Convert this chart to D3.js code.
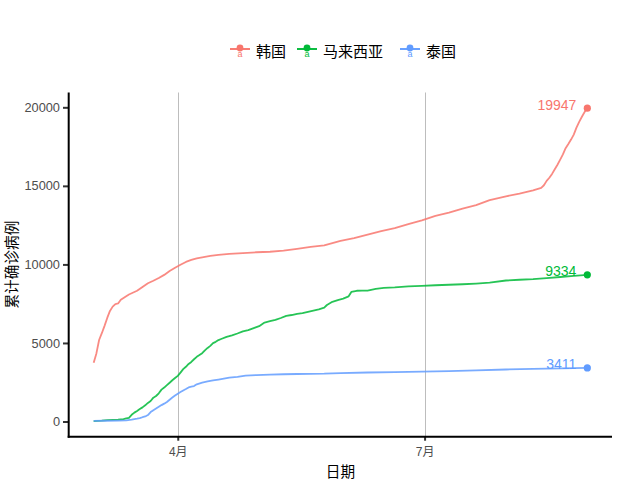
<!DOCTYPE html>
<html><head><meta charset="utf-8">
<script src="https://cdn.jsdelivr.net/npm/d3@7"></script>
<style>
body{margin:0;background:#fff;}
svg{display:block;}
</style></head>
<body>
<svg id="chart" width="640" height="480"></svg>
<script>
// ---------- DATA ----------
const seriesNames = ["韩国", "马来西亚", "泰国"];
const seriesColors = ["#F8766D", "#00BA38", "#619CFF"];

const koreaDates = ["03-01","03-02","03-03","03-04","03-05","03-06","03-07","03-08","03-09","03-10","03-11","03-12","03-13","03-14","03-15","03-17","03-19","03-21","03-23","03-25","03-27","03-29","03-31","04-02","04-04","04-06","04-08","04-10","04-13","04-16","04-20","04-25","04-30","05-05","05-10","05-15","05-20","05-25","05-31","06-05","06-10","06-15","06-20","06-25","06-30","07-05","07-10","07-15","07-20","07-25","07-31","08-05","08-10","08-13","08-14","08-15","08-16","08-17","08-18","08-19","08-20","08-21","08-22","08-23","08-24","08-25","08-26","08-27","08-28","08-29","08-30"];
const koreaValues = [3736,4335,5186,5621,6088,6593,7041,7313,7478,7513,7755,7869,7979,8086,8162,8320,8565,8799,8961,9137,9332,9583,9786,9976,10156,10284,10384,10450,10537,10613,10674,10718,10774,10806,10874,10991,11110,11206,11503,11668,11902,12121,12306,12563,12800,13091,13293,13551,13771,14092,14336,14499,14714,14873,15039,15318,15515,15761,16058,16346,16670,17002,17399,17665,17945,18265,18706,19077,19400,19699,19947];

const malaysiaDates = ["03-01","03-04","03-06","03-08","03-10","03-12","03-13","03-14","03-15","03-16","03-17","03-18","03-19","03-20","03-21","03-22","03-23","03-24","03-25","03-26","03-27","03-28","03-29","03-30","03-31","04-01","04-02","04-03","04-04","04-05","04-06","04-07","04-08","04-09","04-10","04-11","04-12","04-13","04-14","04-15","04-16","04-17","04-19","04-21","04-23","04-25","04-27","04-29","05-01","05-03","05-05","05-07","05-09","05-11","05-13","05-15","05-17","05-19","05-21","05-23","05-25","05-26","05-28","05-30","06-01","06-03","06-04","06-06","06-08","06-10","06-13","06-16","06-20","06-25","06-30","07-05","07-10","07-15","07-20","07-25","07-31","08-05","08-10","08-15","08-20","08-25","08-30"];
const malaysiaValues = [29,50,83,99,117,149,197,238,428,566,673,790,900,1030,1183,1306,1518,1624,1796,2031,2161,2320,2470,2626,2766,2908,3116,3333,3483,3662,3793,3963,4119,4228,4346,4530,4683,4817,4987,5072,5182,5251,5389,5482,5603,5742,5820,5945,6071,6298,6383,6467,6589,6726,6779,6855,6894,6978,7059,7137,7245,7417,7619,7732,7819,7970,8247,8322,8329,8336,8445,8505,8535,8596,8639,8674,8704,8737,8779,8840,8976,9023,9063,9129,9200,9274,9334];

const thailandDates = ["03-01","03-05","03-10","03-13","03-15","03-16","03-17","03-18","03-19","03-20","03-21","03-22","03-23","03-24","03-25","03-26","03-27","03-28","03-29","03-30","03-31","04-01","04-02","04-03","04-04","04-05","04-06","04-07","04-08","04-10","04-12","04-14","04-16","04-18","04-20","04-23","04-26","04-30","05-05","05-10","05-15","05-20","05-25","05-31","06-10","06-20","06-30","07-10","07-20","07-31","08-10","08-20","08-30"];
const thailandValues = [42,47,53,75,114,147,177,212,272,322,411,599,721,827,934,1045,1136,1245,1388,1524,1651,1771,1875,1978,2067,2169,2220,2258,2369,2473,2551,2613,2672,2733,2792,2839,2922,2954,2989,3009,3025,3037,3045,3081,3119,3146,3171,3202,3250,3310,3351,3378,3411];

const year = "2020";
const xTickDates = ["04-01", "07-01"];
const xTickLabels = ["4月", "7月"];
const yTicks = [0, 5000, 10000, 15000, 20000];
const xTitle = "日期";
const yTitle = "累计确诊病例";

// ---------- BUILD ----------
const parse = d3.timeParse("%Y-%m-%d");
const toDate = s => parse(year + "-" + s);
const allDates = [koreaDates, malaysiaDates, thailandDates];
const allValues = [koreaValues, malaysiaValues, thailandValues];
const series = seriesNames.map((n, i) => ({
  name: n, color: seriesColors[i],
  pts: allDates[i].map((d, j) => ({date: toDate(d), value: allValues[i][j]}))
}));

const svg = d3.select("#chart");
const L = 69, R = 612, T = 92.5, B = 436.7;

const dMin = d3.min(series, s => d3.min(s.pts, p => p.date));
const dMax = d3.max(series, s => d3.max(s.pts, p => p.date));
const dSpan = dMax - dMin;
const x = d3.scaleTime()
  .domain([new Date(+dMin - 0.05 * dSpan), new Date(+dMax + 0.05 * dSpan)])
  .range([L, R]);

const vMin = d3.min(series, s => d3.min(s.pts, p => p.value));
const vMax = d3.max(series, s => d3.max(s.pts, p => p.value));
const vSpan = vMax - vMin;
const y = d3.scaleLinear()
  .domain([vMin - 0.05 * vSpan, vMax + 0.05 * vSpan])
  .range([B, T]);

const tickDates = xTickDates.map(toDate);

// vertical grid lines
svg.append("g").selectAll("line").data(tickDates).join("line")
  .attr("x1", d => Math.round(x(d)) + 0.5).attr("x2", d => Math.round(x(d)) + 0.5)
  .attr("y1", T).attr("y2", B)
  .attr("stroke", "#bdbdbd").attr("stroke-width", 1);

// lines
const line = d3.line().x(p => x(p.date)).y(p => y(p.value));
svg.append("g").selectAll("path").data(series).join("path")
  .attr("d", s => line(s.pts))
  .attr("fill", "none")
  .attr("stroke", s => s.color)
  .attr("stroke-opacity", 0.85)
  .attr("stroke-width", 1.8)
  .attr("stroke-linejoin", "round");

// end points
const last = s => s.pts[s.pts.length - 1];
svg.append("g").selectAll("circle").data(series).join("circle")
  .attr("cx", s => x(last(s).date)).attr("cy", s => y(last(s).value))
  .attr("r", 3.6).attr("fill", s => s.color);

// end labels
svg.append("g").selectAll("text").data(series).join("text")
  .attr("x", s => x(last(s).date) - 11)
  .attr("y", s => y(last(s).value) - 3.5)
  .attr("text-anchor", "end")
  .attr("dominant-baseline", "central")
  .attr("font-family", "Liberation Sans, Arial, sans-serif")
  .attr("font-size", "14px")
  .attr("fill", s => s.color)
  .text(s => last(s).value);

// x axis
const xAxis = d3.axisBottom(x).tickValues(tickDates)
  .tickFormat((d, i) => xTickLabels[i]).tickSize(4).tickPadding(7);
const gx = svg.append("g").attr("transform", `translate(0,${B})`).call(xAxis);
gx.select(".domain").remove();
gx.selectAll(".tick line").attr("stroke", "#333").attr("stroke-width", 2);
gx.selectAll(".tick text").attr("fill", "#4d4d4d")
  .attr("font-family", "Liberation Sans, 'Noto Sans CJK SC', sans-serif")
  .attr("font-size", "12px");

// y axis
const yAxis = d3.axisLeft(y).tickValues(yTicks).tickFormat(d3.format("d"))
  .tickSize(6).tickPadding(3);
const gy = svg.append("g").attr("transform", `translate(${L},0)`).call(yAxis);
gy.select(".domain").remove();
gy.selectAll(".tick line").attr("stroke", "#333").attr("stroke-width", 2);
gy.selectAll(".tick text").attr("fill", "#4d4d4d")
  .attr("font-family", "Liberation Sans, Arial, sans-serif")
  .attr("font-size", "12.8px");

// axis lines
svg.append("line").attr("x1", L - 0.3).attr("x2", L - 0.3).attr("y1", T).attr("y2", B + 1)
  .attr("stroke", "#000").attr("stroke-width", 2);
svg.append("line").attr("x1", L - 1.3).attr("x2", R).attr("y1", B).attr("y2", B)
  .attr("stroke", "#000").attr("stroke-width", 2);

// axis titles
svg.append("text").attr("x", (L + R) / 2).attr("y", 470)
  .attr("text-anchor", "middle").attr("dominant-baseline", "central")
  .attr("font-family", "'Noto Sans CJK SC', sans-serif").attr("font-size", "14.67px")
  .attr("fill", "#000").text(xTitle);
svg.append("text").attr("transform", `translate(10.5,${(T + B) / 2}) rotate(-90)`)
  .attr("text-anchor", "middle").attr("dominant-baseline", "central")
  .attr("font-family", "'Noto Sans CJK SC', sans-serif").attr("font-size", "14.67px")
  .attr("fill", "#000").text(yTitle);

// legend
const legendX = [240, 307, 410];
const legendY = 49;
const lg = svg.append("g").selectAll("g").data(series).join("g")
  .attr("transform", (s, i) => `translate(${legendX[i]},${legendY})`);
lg.append("line").attr("x1", -10).attr("x2", 10).attr("y1", 0).attr("y2", 0)
  .attr("stroke", s => s.color).attr("stroke-width", 1.9);
lg.append("circle").attr("r", 3.4).attr("cy", -1).attr("fill", s => s.color);
lg.append("text").attr("y", 5).attr("text-anchor", "middle")
  .attr("dominant-baseline", "central")
  .attr("font-family", "Liberation Sans, Arial, sans-serif").attr("font-size", "9px")
  .attr("fill", s => s.color).text("a");
lg.append("text").attr("x", 16).attr("y", 1)
  .attr("dominant-baseline", "central")
  .attr("font-family", "'Noto Sans CJK SC', sans-serif").attr("font-size", "15px")
  .attr("fill", "#000").text(s => s.name);
</script>
</body></html>
